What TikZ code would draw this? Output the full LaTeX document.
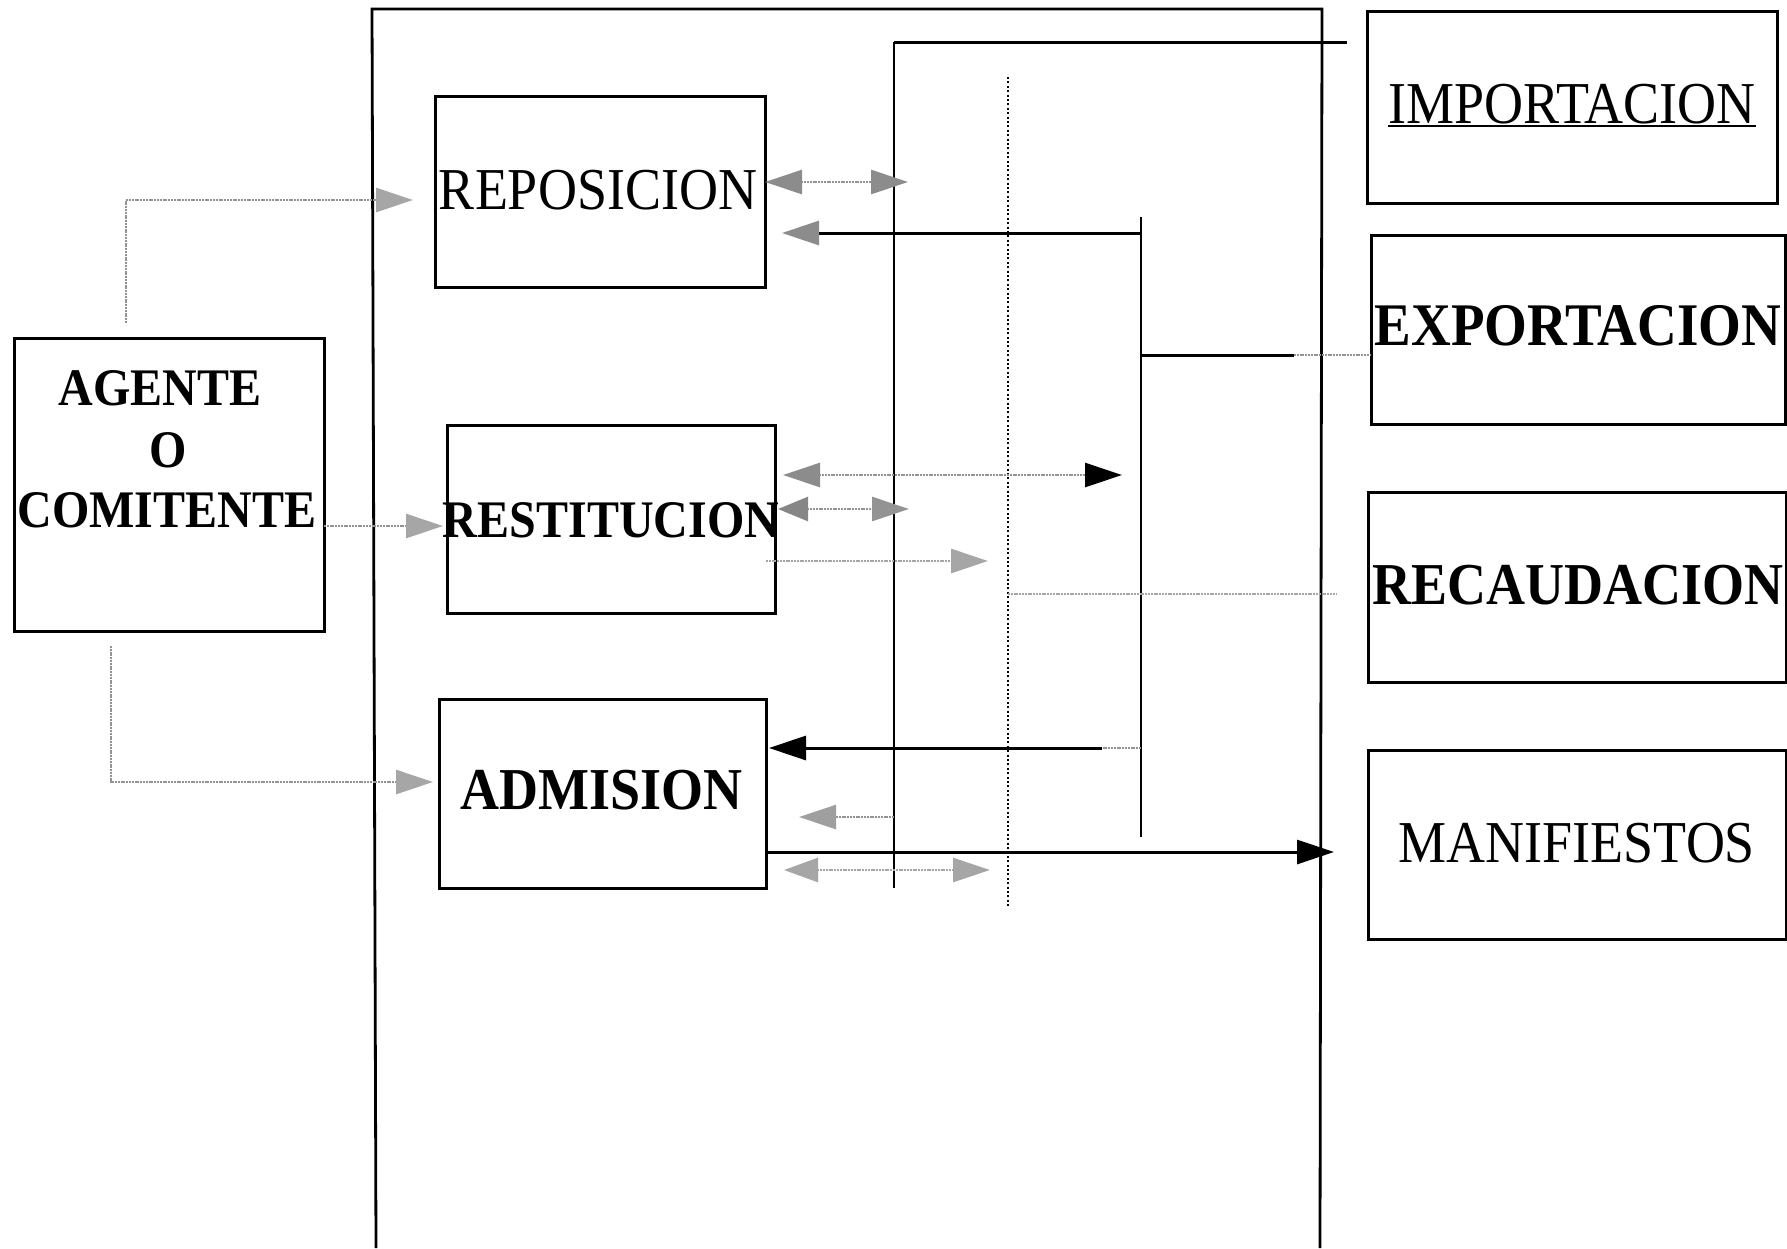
\documentclass[tikz,border=0pt]{standalone}
\usepackage{graphicx}
\usepackage{fontspec}
\setmainfont{Liberation Serif}
\usetikzlibrary{arrows.meta}
\newcommand{\vs}[1]{\scalebox{1}[1.1]{#1}}
\tikzset{
  box/.style={draw=black, line width=3pt, inner sep=0pt, outer sep=0pt},
  lbl/.style={anchor=base, inner sep=0pt, outer sep=0pt},
  big/.style={font=\fontsize{54}{60}\selectfont},
  bigb/.style={font=\bfseries\fontsize{54}{60}\selectfont},
  midb/.style={font=\bfseries\fontsize{48}{52}\selectfont},
  frame/.style={draw=black, line width=2.8pt},
  blk/.style={draw=black, line width=3pt},
  thinv/.style={draw=black, line width=2pt},
  dotv/.style={draw=black, line width=2pt, dash pattern=on 2pt off 2.4pt},
  gry/.style={draw=gray!85, line width=2.6pt, dash pattern=on 2pt off 0.8pt},
  lgry/.style={draw=gray!70, line width=2.6pt, dash pattern=on 2pt off 0.8pt},
  tk/.style={-{Triangle[length=37pt,width=24pt,color=black]}},
  tg/.style={-{Triangle[length=37pt,width=24pt,color=gray!70]}},
  tdk/.style={-{Triangle[length=37pt,width=24pt,color=gray!90]}},
  tm/.style={-{Triangle[length=37pt,width=24pt,color=gray!75]}},
}
\begin{document}
\begin{tikzpicture}[x=1pt,y=-1pt]
\useasboundingbox (0,0) rectangle (1787,1248);
\fill[white] (0,0) rectangle (1787,1248);

% outer frame
\coordinate (fbl) at (376,1248);
\coordinate (ftl) at (372,9);
\coordinate (ftr) at (1322,9);
\coordinate (fbr) at (1320,1248);
\draw[frame] (fbl) -- (ftl) -- (ftr) -- (fbr);

% boxes
\node[box, minimum width=310pt, minimum height=293pt] (agente) at (169,484.5) {};
\node[box, minimum width=330pt, minimum height=191pt] (rep) at (600,191.5) {};
\node[box, minimum width=328pt, minimum height=188pt] (rest) at (611,519) {};
\node[box, minimum width=327pt, minimum height=189pt] (adm) at (602.5,793.5) {};
\node[box, minimum width=410pt, minimum height=192pt] (imp) at (1572,107) {};
\node[box, minimum width=414pt, minimum height=189pt] (exp) at (1578,329.5) {};
\node[box, minimum width=418pt, minimum height=190pt] (rec) at (1577,587) {};
\node[box, minimum width=418pt, minimum height=189pt] (man) at (1577,844.5) {};

% texts
\node[lbl, midb] (tag1) at (160,405) {\vs{AGENTE}};
\node[lbl, midb] (tag2) at (168,467) {\vs{O}};
\node[lbl, midb] (tag3) at (167,527) {\vs{COMITENTE}};
\node[lbl, big] (trep) at (598,209) {\vs{REPOSICION}};
\node[lbl, midb] (trest) at (611,537) {\vs{RESTITUCION}};
\node[lbl, bigb] (tadm) at (602,809) {\vs{ADMISION}};
\node[lbl, big] (timp) at (1572,123) {\vs{IMPORTACION}};
\node[lbl, font=\bfseries\fontsize{55}{60}\selectfont] (texp) at (1578,345) {\vs{EXPORTACION}};
\node[lbl, bigb] (trec) at (1578,604) {\vs{RECAUDACION}};
\node[lbl, big] (tman) at (1577,862) {\vs{MANIFIESTOS}};
\draw[black, line width=2pt] ([yshift=-2.5pt]timp.base west) -- ([yshift=-2.5pt]timp.base east);

% agent connectors
\coordinate (a1s) at (126,323);
\coordinate (a1t) at (413,200);
\draw[gry, tg] (a1s) |- (a1t);
\coordinate (a2t) at (443,526);
\draw[gry, tg] (agente.east |- a2t) -- (a2t);
\coordinate (a3s) at (111,646);
\coordinate (a3t) at (433,782);
\draw[gry, tg] (a3s) |- (a3t);

% vertical buses
\coordinate (v1top) at (894,42);
\coordinate (v1bot) at (894,888);
\coordinate (topR) at (1347,42);
\draw[blk] (topR) -- (v1top);
\draw[thinv] (v1top) -- (v1bot);
\coordinate (v2top) at (1008,77);
\coordinate (v2bot) at (1008,906);
\draw[dotv] (v2top) -- (v2bot);
\coordinate (v3top) at (1141,217);
\coordinate (v3bot) at (1141,837);
\draw[thinv] (v3top) -- (v3bot);

% REPOSICION arrows
\coordinate (r1b) at (908,182);
\draw[gry, {Triangle[length=37pt,width=24pt,color=gray!90]}-{Triangle[length=37pt,width=24pt,color=gray!90]}] (rep.east |- r1b) -- (r1b);
\coordinate (j1) at (1141,233);
\coordinate (r2t) at (782,233);
\draw[blk, tdk] (j1) -- (r2t);

% EXPORTACION link
\coordinate (j2) at (1141,355);
\coordinate (j2b) at (1294,355);
\draw[blk] (j2) -- (j2b);
\draw[gry] (j2b) -- (exp.west |- j2);

% RESTITUCION arrows
\coordinate (s1a) at (783,475);
\coordinate (s1b) at (1122,475);
\draw[gry, {Triangle[length=37pt,width=24pt,color=gray!90]}-{Triangle[length=37pt,width=24pt,color=black]}] (s1a) -- (s1b);
\coordinate (s2a) at (778,509);
\coordinate (s2b) at (909,509);
\draw[gry, {Triangle[length=30pt,width=24pt,color=gray!95]}-{Triangle[length=37pt,width=24pt,color=gray!85]}] (s2a) -- (s2b);
\coordinate (s3a) at (766,561);
\coordinate (s3b) at (988,561);
\draw[lgry, tg] (s3a) -- (s3b);

% RECAUDACION link
\coordinate (j3) at (1008,594);
\coordinate (recend) at (1336,594);
\draw[lgry] (j3) -- (recend);

% ADMISION arrows
\coordinate (j4) at (1141,748);
\coordinate (j4b) at (1102,748);
\coordinate (d1t) at (769,748);
\draw[gry] (j4) -- (j4b);
\draw[blk, tk] (j4b) -- (d1t);
\coordinate (j5) at (894,817);
\coordinate (d2t) at (799,817);
\draw[gry, tm] (j5) -- (d2t);
\coordinate (d3t) at (1334,852);
\draw[blk, tk] (adm.east |- d3t) -- (d3t);
\coordinate (d4a) at (784,870);
\coordinate (d4b) at (990,870);
\draw[lgry, {Triangle[length=34pt,width=24pt,color=gray!70]}-{Triangle[length=37pt,width=24pt,color=gray!70]}] (d4a) -- (d4b);
\end{tikzpicture}
\end{document}
